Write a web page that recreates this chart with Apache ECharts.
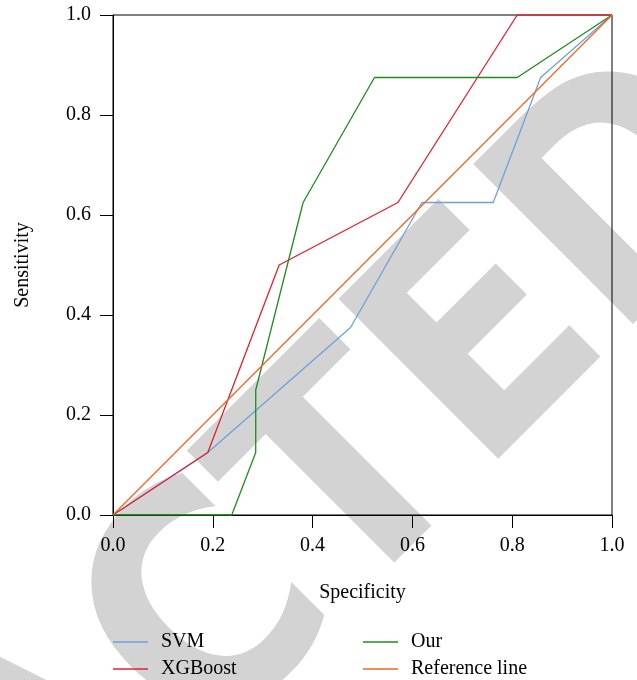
<!DOCTYPE html>
<html>
<head>
<meta charset="utf-8">
<script src="https://cdn.jsdelivr.net/npm/echarts@6/dist/echarts.min.js"></script>
<style>
html,body{margin:0;padding:0;background:#fff;}
#chart{width:637px;height:680px;}
</style>
</head>
<body>
<div id="chart"></div>
<script>
// ---- data (x = Specificity, y = Sensitivity) ----
const tickLabels = ['0.0', '0.2', '0.4', '0.6', '0.8', '1.0'];
const seriesNames = ['SVM', 'XGBoost', 'Our', 'Reference line'];
const svmX = [0, 0.19, 0.476, 0.619, 0.762, 0.857, 1];
const svmY = [0, 0.125, 0.375, 0.625, 0.625, 0.875, 1];
const xgbX = [0, 0.19, 0.333, 0.571, 0.81, 1];
const xgbY = [0, 0.125, 0.5, 0.625, 1, 1];
const ourX = [0, 0.238, 0.286, 0.286, 0.381, 0.524, 0.81, 1];
const ourY = [0, 0, 0.125, 0.25, 0.625, 0.875, 0.875, 1];
const refX = [0, 1];
const refY = [0, 1];
const watermark = 'RETRACTED';

const colors = ['#6fa0dc', '#e3202c', '#1e8c1e', '#f26522'];
const serif = '"Liberation Serif", "Times New Roman", serif';

function zip(xs, ys) { return xs.map((x, i) => [x, ys[i]]); }

const chart = echarts.init(document.getElementById('chart'), null, {renderer: 'canvas'});

const legendCommon = {
  orient: 'vertical', top: 632, padding: 0, itemWidth: 35, itemHeight: 1.5, itemGap: 7,
  icon: 'rect',
  textStyle: {fontFamily: serif, fontSize: 20, lineHeight: 20, color: '#000', padding: [0, 0, 0, 8]}
};

function lineSeries(name, xs, ys, color) {
  return {
    name: name, type: 'line', data: zip(xs, ys), symbol: 'none', showSymbol: false,
    lineStyle: {color: color, width: 1.3}, itemStyle: {color: color},
    animation: false, z: 3
  };
}

chart.setOption({
  animation: false,
  backgroundColor: '#fff',
  color: colors,
  graphic: {
    elements: [{
      type: 'text', x: 70, y: 773, rotation: Math.PI / 4, z: -10, silent: true,
      style: {
        text: watermark, fill: '#d3d3d3',
        fontFamily: '"DejaVu Sans Condensed", "DejaVu Sans", sans-serif',
        fontWeight: 'bold', fontSize: 310,
        align: 'center', verticalAlign: 'middle'
      }
    }]
  },
  grid: {left: 113, right: 25, top: 15, bottom: 165, show: true, borderColor: '#000', borderWidth: 1, backgroundColor: 'transparent'},
  legend: [
    Object.assign({left: 113, data: [seriesNames[0], seriesNames[1]]}, legendCommon),
    Object.assign({left: 363, data: [seriesNames[2], seriesNames[3]]}, legendCommon)
  ],
  xAxis: {
    type: 'value', min: 0, max: 1, interval: 0.2,
    name: 'Specificity', nameLocation: 'middle', nameGap: 68,
    nameTextStyle: {fontFamily: serif, fontSize: 20, color: '#000'},
    axisLine: {show: true, lineStyle: {color: '#000', width: 1}},
    axisTick: {show: true, inside: false, length: 13, lineStyle: {color: '#000'}},
    axisLabel: {fontFamily: serif, fontSize: 20, color: '#000', margin: 21,
      formatter: v => tickLabels[Math.round(v / 0.2)]},
    splitLine: {show: false}
  },
  yAxis: {
    type: 'value', min: 0, max: 1, interval: 0.2,
    name: 'Sensitivity', nameLocation: 'middle', nameGap: 80,
    nameTextStyle: {fontFamily: serif, fontSize: 20, color: '#000'},
    axisLine: {show: true, lineStyle: {color: '#000', width: 1}},
    axisTick: {show: true, inside: false, length: 13, lineStyle: {color: '#000'}},
    axisLabel: {fontFamily: serif, fontSize: 20, color: '#000', margin: 22,
      formatter: v => tickLabels[Math.round(v / 0.2)]},
    splitLine: {show: false}
  },
  series: [
    lineSeries(seriesNames[0], svmX, svmY, colors[0]),
    lineSeries(seriesNames[1], xgbX, xgbY, colors[1]),
    lineSeries(seriesNames[2], ourX, ourY, colors[2]),
    lineSeries(seriesNames[3], refX, refY, colors[3])
  ]
});
</script>
</body>
</html>
